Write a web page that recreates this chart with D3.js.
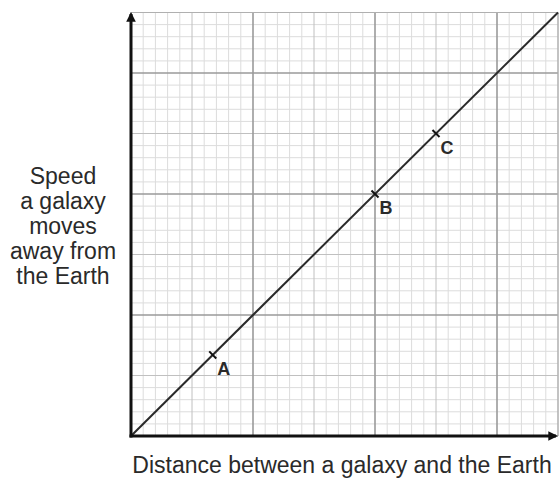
<!DOCTYPE html>
<html>
<head>
<meta charset="utf-8">
<title>Speed vs distance</title>
<script src="https://d3js.org/d3.v7.min.js"></script>
<style>
  body { margin: 0; background: #fff; }
  text { font-family: "Liberation Sans", Arial, sans-serif; fill: #2a2a2a; }
</style>
</head>
<body>
<div id="chart"></div>
<script>
// Data (grid units, one unit = one big square)
const pointNames = ["A", "B", "C"];
const pointDistance = [0.67, 2.0, 2.5];
const pointSpeed = [0.67, 2.0, 2.5];
const lineDistance = [0, 3.5];
const lineSpeed = [0, 3.5];
const xLabel = "Distance between a galaxy and the Earth";
const yLabel = ["Speed", "a galaxy", "moves", "away from", "the Earth"];

const width = 560, height = 481;
const svg = d3.select("#chart").append("svg")
  .attr("width", width).attr("height", height);

const x = d3.scaleLinear().domain([0, 3.5]).range([131, 558]);
const y = d3.scaleLinear().domain([0, 3.5]).range([436, 12.5]);

// grid: 10 small squares per big square, darker line every half square
const grid = svg.append("g");
const ticks = d3.range(0, 36).map(i => i / 10);
function gridColor(i) {
  if (i % 10 === 0) return "#9a9a9a";
  if (i % 5 === 0) return "#c0c0c0";
  return "#dcdcdc";
}
function gridWidth(i) {
  return i % 10 === 0 ? 1.6 : 1;
}
// draw light first so dark ones stay on top
const order = d3.range(0, 36).sort((a, b) => (a % 10 === 0) - (b % 10 === 0) || (a % 5 === 0) - (b % 5 === 0));
order.forEach(i => {
  const t = ticks[i];
  grid.append("line")
    .attr("x1", x(t)).attr("x2", x(t))
    .attr("y1", y(0)).attr("y2", y(3.5))
    .attr("stroke", gridColor(i)).attr("stroke-width", gridWidth(i));
  grid.append("line")
    .attr("x1", x(0)).attr("x2", x(3.5))
    .attr("y1", y(t)).attr("y2", y(t))
    .attr("stroke", gridColor(i)).attr("stroke-width", gridWidth(i));
});
// outer edge of the grid
grid.append("line").attr("x1", x(0)).attr("x2", x(3.5)).attr("y1", y(3.5)).attr("y2", y(3.5))
  .attr("stroke", "#b0b0b0").attr("stroke-width", 1.2);
grid.append("line").attr("x1", x(3.5)).attr("x2", x(3.5)).attr("y1", y(0)).attr("y2", y(3.5))
  .attr("stroke", "#b0b0b0").attr("stroke-width", 1.2);

// the straight line
svg.append("line")
  .attr("x1", x(lineDistance[0])).attr("y1", y(lineSpeed[0]))
  .attr("x2", x(lineDistance[1])).attr("y2", y(lineSpeed[1]))
  .attr("stroke", "#2a2a2a").attr("stroke-width", 2);

// axes with arrow heads
svg.append("defs").append("marker")
  .attr("id", "arrow").attr("viewBox", "0 0 10 10")
  .attr("refX", 8).attr("refY", 5)
  .attr("markerWidth", 3.2).attr("markerHeight", 3.2)
  .attr("orient", "auto")
  .append("path").attr("d", "M0,0 L10,5 L0,10 z").attr("fill", "#111");

svg.append("line")
  .attr("x1", x(0) - 1.5).attr("y1", y(0))
  .attr("x2", 556).attr("y2", y(0))
  .attr("stroke", "#111").attr("stroke-width", 3)
  .attr("marker-end", "url(#arrow)");
svg.append("line")
  .attr("x1", x(0)).attr("y1", y(0) + 1.5)
  .attr("x2", x(0)).attr("y2", 14)
  .attr("stroke", "#111").attr("stroke-width", 3)
  .attr("marker-end", "url(#arrow)");

// marked points: short tick across the line + letter
const angle = Math.atan2(y(1) - y(0), x(1) - x(0));
const pts = svg.append("g");
pointNames.forEach((name, i) => {
  const px = x(pointDistance[i]), py = y(pointSpeed[i]);
  const nx = Math.cos(angle + Math.PI / 2) * 5, ny = Math.sin(angle + Math.PI / 2) * 5;
  pts.append("line")
    .attr("x1", px - nx).attr("y1", py - ny)
    .attr("x2", px + nx).attr("y2", py + ny)
    .attr("stroke", "#111").attr("stroke-width", 2);
  pts.append("text")
    .attr("x", px + 11).attr("y", py + 20)
    .attr("text-anchor", "middle")
    .attr("font-size", 18).attr("font-weight", "bold")
    .text(name);
});

// axis titles
svg.append("text")
  .attr("x", 342).attr("y", 473)
  .attr("text-anchor", "middle")
  .attr("font-size", 23)
  .text(xLabel);

const yl = svg.append("text")
  .attr("text-anchor", "middle")
  .attr("font-size", 23);
yLabel.forEach((s, i) => {
  yl.append("tspan").attr("x", 63).attr("y", 184 + i * 25).text(s);
});
</script>
</body>
</html>
